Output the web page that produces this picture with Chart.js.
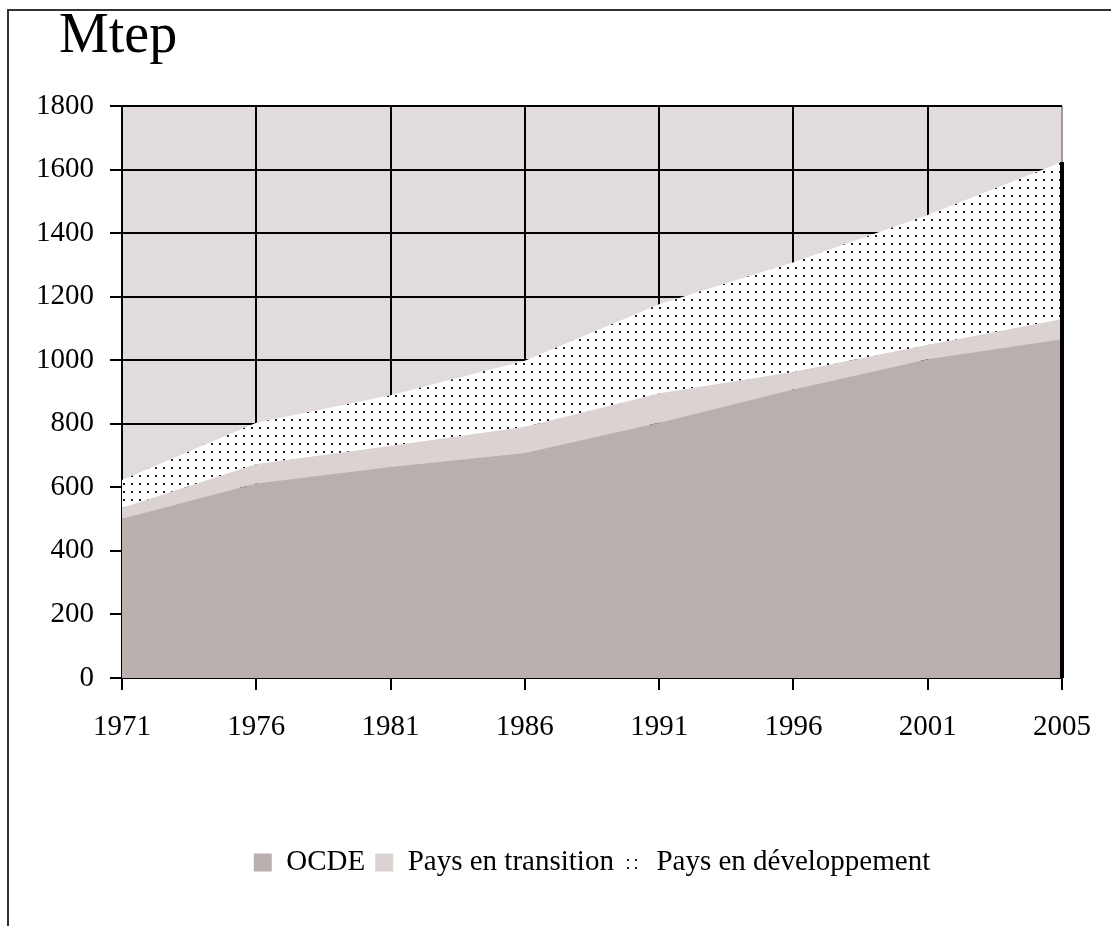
<!DOCTYPE html>
<html>
<head>
<meta charset="utf-8">
<script src="https://cdn.jsdelivr.net/npm/chart.js@4.4.0/dist/chart.umd.min.js"></script>
<style>
  html, body { margin: 0; padding: 0; background: #fff; overflow: hidden; }
  #frame { position: absolute; left: 7px; top: 9px; width: 1200px; height: 1000px;
           border-left: 2px solid #333; border-top: 2px solid #333; }
  #chart { position: absolute; left: 0; top: 0; }
  #title { position: absolute; left: 59px; top: 5px; margin: 0;
           font: normal 56px/56px 'Liberation Serif', 'Times New Roman', serif; color: #000; }
</style>
</head>
<body>
<div id="frame"></div>
<canvas id="chart" width="1111" height="926"></canvas>
<div id="title">Mtep</div>
<script>
const years = ['1971', '1976', '1981', '1986', '1991', '1996', '2001', '2005'];
// Mtep, stacked from the bottom
const ocde = [501, 612, 664, 708, 803, 908, 1003, 1066];
const transition = [34, 61, 66, 82, 92, 55, 45, 63];
const developpement = [88, 130, 160, 208, 281, 345, 409, 495];
const yMax = 1800;
const yStep = 200;

const FONT = "'Liberation Serif', 'Times New Roman', serif";

// white with black dots, like the original hatch
function dotPattern() {
  const c = document.createElement('canvas');
  c.width = 8; c.height = 8;
  const g = c.getContext('2d');
  g.fillStyle = '#fff';
  g.fillRect(0, 0, 8, 8);
  g.fillStyle = '#222';
  g.fillRect(3, 3, 2, 2);
  return document.getElementById('chart').getContext('2d').createPattern(c, 'repeat');
}

const plotBackground = {
  id: 'plotBackground',
  beforeDraw(chart) {
    const { ctx, chartArea: a } = chart;
    ctx.save();
    ctx.fillStyle = '#e1dcdb';
    ctx.fillRect(a.left, a.top, a.right - a.left, a.bottom - a.top);
    ctx.restore();
  }
};

// heavy black edge on the last year, as in the source
const rightEdge = {
  id: 'rightEdge',
  afterDatasetsDraw(chart) {
    const last = years.length - 1;
    const x = chart.scales.x.getPixelForValue(last);
    const top = chart.scales.y.getPixelForValue(ocde[last] + transition[last] + developpement[last]);
    const bottom = chart.scales.y.getPixelForValue(0);
    const ctx = chart.ctx;
    ctx.save();
    ctx.strokeStyle = '#000';
    ctx.lineWidth = 4;
    ctx.beginPath();
    ctx.moveTo(x, top);
    ctx.lineTo(x, bottom);
    ctx.stroke();
    ctx.restore();
  }
};

const area = { pointRadius: 0, borderWidth: 0, tension: 0 };

new Chart(document.getElementById('chart'), {
  type: 'line',
  data: {
    labels: years,
    datasets: [
      { ...area, label: 'OCDE', data: ocde, backgroundColor: '#b9b0ae', fill: 'origin' },
      { ...area, label: 'Pays en transition', data: transition, backgroundColor: '#dbd3d1', fill: '-1' },
      { ...area, label: 'Pays en développement', data: developpement, backgroundColor: dotPattern(), fill: '-1' }
    ]
  },
  options: {
    responsive: false,
    animation: false,
    layout: { padding: { left: 20, right: 45, top: 106, bottom: 39 } },
    plugins: {
      title: { display: false },
      legend: {
        position: 'bottom',
        fullSize: false,
        labels: {
          color: '#000',
          boxWidth: 18,
          boxHeight: 18,
          padding: 10,
          font: { family: FONT, size: 29 }
        }
      },
      tooltip: { enabled: false }
    },
    scales: {
      x: {
        offset: false,
        grid: {
          color: (c) => c.index === years.length - 1 ? '#9a9a9a' : '#000',
          tickColor: '#000',
          lineWidth: 2,
          tickLength: 12,
          offset: false
        },
        border: { color: '#000', width: 2 },
        ticks: { color: '#000', padding: 20, maxRotation: 0, font: { family: FONT, size: 29 } },
        afterFit(scale) { scale.height = 160; }
      },
      y: {
        stacked: true,
        min: 0,
        max: yMax,
        grid: { color: '#000', lineWidth: 2, tickLength: 12 },
        border: { color: '#000', width: 2 },
        ticks: {
          stepSize: yStep,
          color: '#000',
          padding: 16,
          font: { family: FONT, size: 29 },
          callback: (v) => String(v)
        },
        afterFit(scale) { scale.width = 102; }
      }
    }
  },
  plugins: [plotBackground, rightEdge]
});
</script>
</body>
</html>
